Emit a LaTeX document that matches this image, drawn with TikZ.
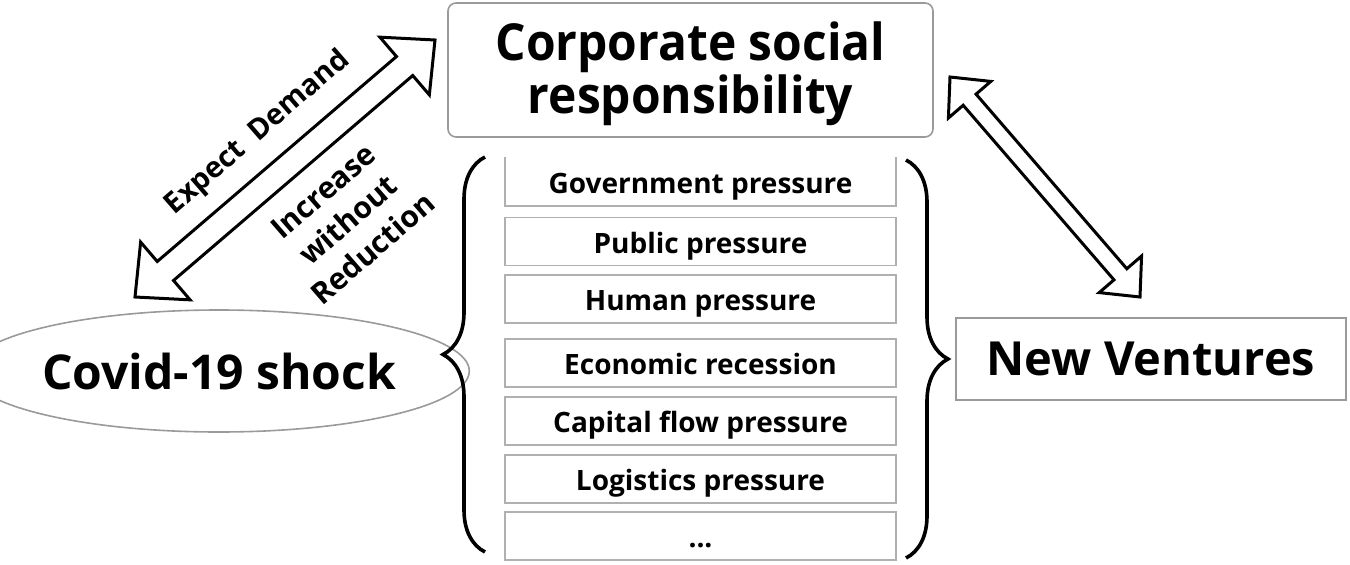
\documentclass[tikz,border=0pt]{standalone}
\usepackage{fontspec}
\setmainfont{Open Sans}
\usetikzlibrary{calc,decorations.pathreplacing,shapes.geometric}
\definecolor{framegray}{HTML}{9A9A9A}
\definecolor{rowgray}{HTML}{B0B0B0}
\tikzset{
  pbox/.style={minimum width=391pt, minimum height=48pt, inner sep=0pt,
    text height=23pt, text depth=0pt,
    font=\fontsize{28}{32}\selectfont\bfseries},
  pframe/.style={draw=rowgray, line width=1.6pt},
  mainframe/.style={draw=framegray, line width=1.6pt},
  hollow/.style={draw=black, line width=3pt, line join=miter, fill=white},
  bracestyle/.style={decorate, decoration={brace, amplitude=42pt}, line width=3.6pt},
  lbl/.style={rotate=41, align=center, inner sep=0pt}
}
\newcommand\hollowarrow[5]{%
  \draw[hollow] (#1)
    -- ($(#1)!#5!(#2)!#4!90:(#2)$)
    -- ($(#1)!#5!(#2)!#3!90:(#2)$)
    -- ($(#2)!#5!(#1)!#3!-90:(#1)$)
    -- ($(#2)!#5!(#1)!#4!-90:(#1)$)
    -- (#2)
    -- ($(#2)!#5!(#1)!#4!90:(#1)$)
    -- ($(#2)!#5!(#1)!#3!90:(#1)$)
    -- ($(#1)!#5!(#2)!#3!-90:(#2)$)
    -- ($(#1)!#5!(#2)!#4!-90:(#2)$)
    -- cycle;}
\begin{document}
\begin{tikzpicture}[x=1pt,y=-1pt]
\useasboundingbox (0,0) rectangle (1350,565);

% main nodes
\node[mainframe, rounded corners=8pt, minimum width=485pt, minimum height=134pt,
  inner sep=0pt] (csr) at (690.5,70) {};
\node[align=center, inner sep=0pt, font=\fontsize{51}{53}\selectfont\bfseries]
  (csrtext) at (690.5,74) {\scalebox{0.94}[1]{Corporate social}\\\scalebox{0.94}[1]{responsibility}};
\node[mainframe, ellipse, minimum width=432pt, minimum height=122pt, inner sep=0pt,
  font=\fontsize{48}{52}\selectfont\bfseries] (covid) at (219,371) {Covid-19 shock};
\node[mainframe, minimum width=390pt, minimum height=82pt, inner sep=0pt,
  font=\fontsize{47}{52}\selectfont\bfseries] (nv) at (1151,359) {New Ventures};

% pressure rows
\node[pbox] (p1) at (700.5,181.5) {Government pressure};
\draw[pframe] (p1.north west) -- (p1.south west) -- (p1.south east) -- (p1.north east);
\node[pbox, pframe] (p2) at (700.5,241.5) {Public pressure};
\node[pbox, pframe] (p3) at (700.5,299) {Human pressure};
\node[pbox, pframe] (p4) at (700.5,363) {Economic recession};
\node[pbox, pframe] (p5) at (700.5,421) {Capital flow pressure};
\node[pbox, pframe] (p6) at (700.5,479) {Logistics pressure};
\node[pbox, pframe] (p7) at (700.5,536) {...};

% braces
\coordinate (lb1) at (485,552);
\coordinate (lb2) at (485,157);
\coordinate (rb1) at (906,160);
\coordinate (rb2) at (906,558);
\draw[bracestyle] (lb1) -- (lb2);
\draw[bracestyle] (rb1) -- (rb2);

% hollow double arrows
\coordinate (la1) at (135,297);
\coordinate (la2) at (435,40);
\coordinate (ra1) at (950,77);
\coordinate (ra2) at (1140,297);
\hollowarrow{la1}{la2}{12.5pt}{38pt}{40pt}
\hollowarrow{ra1}{ra2}{8.5pt}{28pt}{30pt}

% arrow labels
\node[lbl, font=\fontsize{29}{34}\selectfont\bfseries] (ed) at (258,133) {Expect\ \ Demand};
\node[lbl, font=\fontsize{30}{38}\selectfont\bfseries] (iwr) at (348,220) {Increase\\without\\Reduction};
\end{tikzpicture}
\end{document}
